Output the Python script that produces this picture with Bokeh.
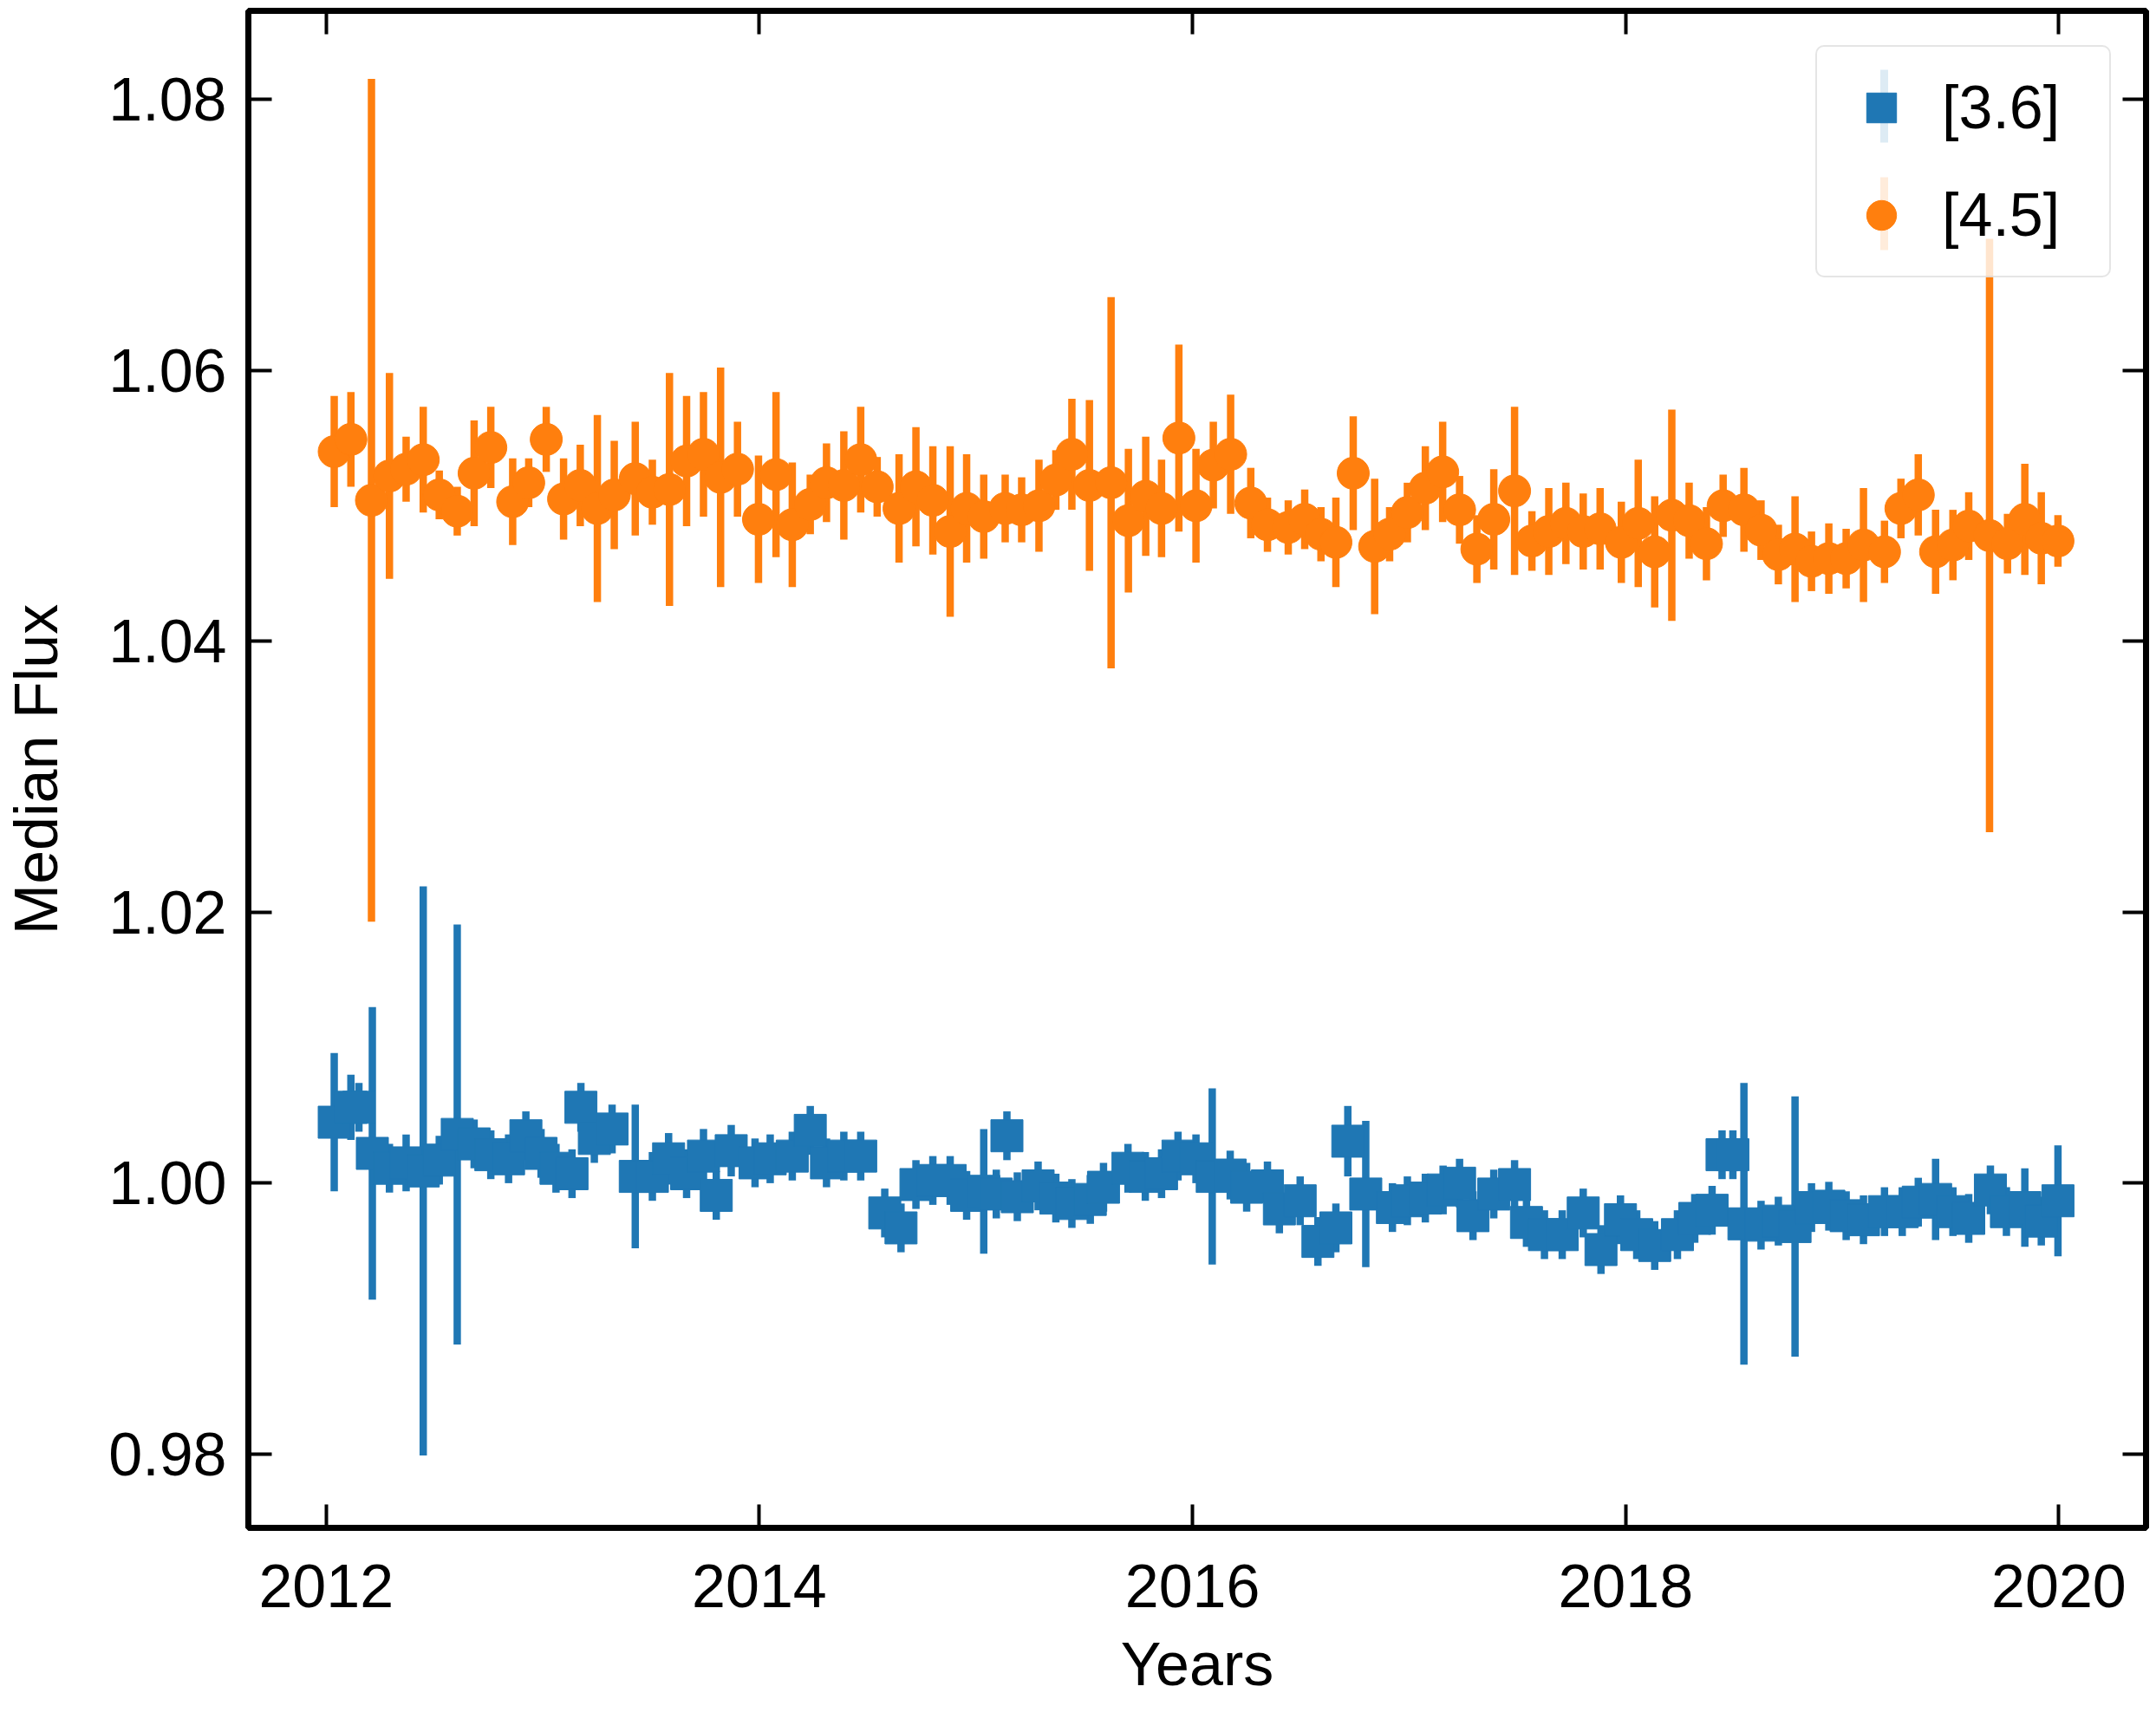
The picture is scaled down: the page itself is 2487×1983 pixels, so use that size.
import subprocess
import glob
import os
from bokeh.plotting import figure
from bokeh.models import (Range1d, LinearAxis, FixedTicker, PrintfTickFormatter,
                          Legend, LegendItem, Arrow, ColumnDataSource)
from bokeh.embed import file_html
from bokeh.resources import INLINE

# ---------------- data ----------------
x_ticks = [2012, 2014, 2016, 2018, 2020]
y_ticks = [0.98, 1.00, 1.02, 1.04, 1.06, 1.08]
labels = ["[3.6]", "[4.5]"]

t36 = [2012.037, 2012.114, 2012.151, 2012.213, 2012.292, 2012.369, 2012.448, 2012.522,
       2012.605, 2012.683, 2012.760, 2012.842, 2012.922, 2012.992, 2013.061, 2013.135,
       2013.176, 2013.238, 2013.320, 2013.427, 2013.506, 2013.581, 2013.664, 2013.742,
       2013.801, 2013.870, 2013.980, 2014.050, 2014.152, 2014.235, 2014.310, 2014.390,
       2014.468, 2014.579, 2014.654, 2014.723, 2014.801, 2014.881, 2014.957, 2015.036,
       2015.094, 2015.143, 2015.191, 2015.287, 2015.369, 2015.443, 2015.528, 2015.589,
       2015.702, 2015.782, 2015.857, 2015.933, 2016.016, 2016.091, 2016.174, 2016.250,
       2016.346, 2016.401, 2016.497, 2016.579, 2016.662, 2016.717, 2016.800, 2016.923,
       2016.992, 2017.075, 2017.157, 2017.233, 2017.295, 2017.391, 2017.487, 2017.542,
       2017.625, 2017.707, 2017.804, 2017.886, 2017.976, 2018.051, 2018.134, 2018.239,
       2018.319, 2018.399, 2018.445, 2018.495, 2018.546, 2018.625, 2018.705, 2018.782,
       2018.858, 2018.938, 2019.018, 2019.098, 2019.195, 2019.277, 2019.351, 2019.431,
       2019.511, 2019.584, 2019.684, 2019.758, 2019.843, 2019.919, 2019.996]
f36 = [1.0045, 1.0056, 1.0056, 1.0022, 1.0011, 1.0015, 1.0009, 1.0017,
       1.0036, 1.0029, 1.0021, 1.0018, 1.0035, 1.0022, 1.0011, 1.0007,
       1.0056, 1.0033, 1.0040, 1.0005, 1.0005, 1.0018, 1.0007, 1.0020,
       0.9991, 1.0024, 1.0015, 1.0018, 1.0020, 1.0039, 1.0015, 1.0020,
       1.0020, 0.9978, 0.9967, 0.9999, 1.0002, 1.0002, 0.9991, 0.9994,
       0.9992, 1.0035, 0.9990, 0.9998, 0.9989, 0.9985, 0.9988, 0.9997,
       1.0011, 1.0005, 1.0007, 1.0020, 1.0018, 1.0005, 1.0006, 0.9997,
       0.9998, 0.9981, 0.9987, 0.9957, 0.9967, 1.0031, 0.9992, 0.9982,
       0.9987, 0.9989, 0.9995, 1.0000, 0.9976, 0.9992, 0.9999, 0.9971,
       0.9962, 0.9962, 0.9978, 0.9951, 0.9973, 0.9962, 0.9954, 0.9962,
       0.9974, 0.9980, 1.0021, 1.0021, 0.9970, 0.9969, 0.9972, 0.9968,
       0.9982, 0.9983, 0.9976, 0.9973, 0.9979, 0.9979, 0.9986, 0.9988,
       0.9979, 0.9974, 0.9995, 0.9979, 0.9982, 0.9972, 0.9987]
e36 = [0.0051, 0.0024, 0.0018, 0.0108, 0.0018, 0.0021, 0.0210, 0.0018,
       0.0155, 0.0018, 0.0018, 0.0018, 0.0018, 0.0018, 0.0018, 0.0018,
       0.0018, 0.0018, 0.0018, 0.0053, 0.0018, 0.0019, 0.0018, 0.0020,
       0.0018, 0.0019, 0.0018, 0.0018, 0.0018, 0.0018, 0.0018, 0.0018,
       0.0018, 0.0018, 0.0018, 0.0018, 0.0018, 0.0018, 0.0018, 0.0046,
       0.0018, 0.0018, 0.0018, 0.0018, 0.0018, 0.0018, 0.0018, 0.0018,
       0.0018, 0.0018, 0.0018, 0.0018, 0.0018, 0.0065, 0.0018, 0.0018,
       0.0018, 0.0018, 0.0018, 0.0018, 0.0018, 0.0026, 0.0054, 0.0018,
       0.0018, 0.0018, 0.0018, 0.0018, 0.0018, 0.0018, 0.0018, 0.0018,
       0.0018, 0.0018, 0.0018, 0.0018, 0.0018, 0.0018, 0.0018, 0.0018,
       0.0018, 0.0018, 0.0018, 0.0018, 0.0104, 0.0018, 0.0018, 0.0096,
       0.0018, 0.0018, 0.0018, 0.0018, 0.0018, 0.0018, 0.0018, 0.0030,
       0.0018, 0.0018, 0.0018, 0.0018, 0.0029, 0.0018, 0.0041]

t45 = [2012.037, 2012.114, 2012.209, 2012.292, 2012.369, 2012.448, 2012.522, 2012.605,
       2012.683, 2012.760, 2012.861, 2012.935, 2013.016, 2013.096, 2013.173, 2013.252,
       2013.330, 2013.427, 2013.506, 2013.585, 2013.664, 2013.742, 2013.821, 2013.899,
       2013.996, 2014.077, 2014.152, 2014.235, 2014.310, 2014.390, 2014.468, 2014.544,
       2014.645, 2014.723, 2014.801, 2014.881, 2014.957, 2015.036, 2015.135, 2015.211,
       2015.291, 2015.369, 2015.443, 2015.524, 2015.624, 2015.704, 2015.784, 2015.857,
       2015.937, 2016.016, 2016.096, 2016.176, 2016.269, 2016.346, 2016.442, 2016.518,
       2016.593, 2016.662, 2016.742, 2016.841, 2016.910, 2016.992, 2017.075, 2017.155,
       2017.233, 2017.313, 2017.391, 2017.487, 2017.567, 2017.645, 2017.724, 2017.804,
       2017.882, 2017.980, 2018.058, 2018.134, 2018.213, 2018.293, 2018.373, 2018.450,
       2018.546, 2018.625, 2018.705, 2018.782, 2018.858, 2018.938, 2019.018, 2019.098,
       2019.195, 2019.271, 2019.351, 2019.431, 2019.511, 2019.584, 2019.680, 2019.763,
       2019.843, 2019.919, 2019.996]
f45 = [1.0540, 1.0549, 1.0504, 1.0522, 1.0527, 1.0534, 1.0508, 1.0496,
       1.0524, 1.0543, 1.0503, 1.0517, 1.0549, 1.0505, 1.0515, 1.0498,
       1.0508, 1.0520, 1.0510, 1.0512, 1.0533, 1.0538, 1.0521, 1.0527,
       1.0490, 1.0523, 1.0486, 1.0501, 1.0517, 1.0515, 1.0534, 1.0514,
       1.0498, 1.0514, 1.0504, 1.0481, 1.0498, 1.0492, 1.0498, 1.0497,
       1.0500, 1.0519, 1.0538, 1.0515, 1.0517, 1.0489, 1.0507, 1.0498,
       1.0550, 1.0500, 1.0530, 1.0538, 1.0502, 1.0486, 1.0484, 1.0490,
       1.0479, 1.0473, 1.0524, 1.0470, 1.0479, 1.0495, 1.0513, 1.0525,
       1.0497, 1.0468, 1.0490, 1.0511, 1.0474, 1.0481, 1.0487, 1.0481,
       1.0483, 1.0473, 1.0487, 1.0466, 1.0493, 1.0489, 1.0472, 1.0500,
       1.0497, 1.0482, 1.0464, 1.0468, 1.0459, 1.0461, 1.0461, 1.0471,
       1.0466, 1.0498, 1.0508, 1.0466, 1.0471, 1.0485, 1.0478, 1.0472,
       1.0490, 1.0476, 1.0474]
e45 = [0.0041, 0.0035, 0.0311, 0.0076, 0.0024, 0.0039, 0.0018, 0.0018,
       0.0039, 0.0030, 0.0032, 0.0018, 0.0024, 0.0030, 0.0030, 0.0069,
       0.0040, 0.0042, 0.0024, 0.0086, 0.0048, 0.0046, 0.0081, 0.0035,
       0.0047, 0.0061, 0.0046, 0.0022, 0.0029, 0.0040, 0.0039, 0.0022,
       0.0040, 0.0044, 0.0040, 0.0063, 0.0040, 0.0031, 0.0025, 0.0024,
       0.0034, 0.0022, 0.0041, 0.0063, 0.0137, 0.0053, 0.0044, 0.0036,
       0.0069, 0.0042, 0.0032, 0.0044, 0.0026, 0.0020, 0.0020, 0.0022,
       0.0020, 0.0033, 0.0042, 0.0050, 0.0020, 0.0022, 0.0031, 0.0037,
       0.0025, 0.0025, 0.0037, 0.0062, 0.0022, 0.0032, 0.0030, 0.0028,
       0.0030, 0.0030, 0.0047, 0.0041, 0.0078, 0.0028, 0.0027, 0.0023,
       0.0031, 0.0022, 0.0022, 0.0039, 0.0022, 0.0026, 0.0022, 0.0042,
       0.0023, 0.0022, 0.0030, 0.0031, 0.0026, 0.0025, 0.0219, 0.0022,
       0.0041, 0.0034, 0.0019]

# ---------------- style ----------------
BLUE = "#1f77b4"
ORANGE = "#ff7f0e"


def narrow_available():
    try:
        out = subprocess.run(["fc-list", ":", "family"], capture_output=True, text=True).stdout
        if "Liberation Sans Narrow" in out:
            return True
    except Exception:
        pass
    for d in ["/usr/share/fonts", "/usr/local/share/fonts", os.path.expanduser("~/.fonts"),
              os.path.expanduser("~/.local/share/fonts")]:
        try:
            if glob.glob(os.path.join(d, "**", "*LiberationSansNarrow*"), recursive=True):
                return True
        except Exception:
            pass
    return False


if narrow_available():
    FONT = "Liberation Sans Narrow"
    FS = "78px"
else:
    FONT = "Liberation Sans"
    FS = "70px"

W, H = 2483, 1978
BL, BR, BT, BB = 281, 8, 12, 216
FRAME_W = W - BL - BR
FRAME_H = H - BT - BB

p = figure(width=W, height=H, output_backend="svg", toolbar_location=None,
           x_range=Range1d(2011.6406, 2020.4026), y_range=Range1d(0.97456, 1.08653),
           min_border_left=BL, min_border_right=BR, min_border_top=BT, min_border_bottom=BB)
p.background_fill_color = "white"
p.border_fill_color = "white"
p.outline_line_color = "black"
p.outline_line_width = 7
p.xgrid.visible = False
p.ygrid.visible = False


def style_axis(ax, ticks, fmt, show_labels):
    ax.ticker = FixedTicker(ticks=ticks)
    ax.formatter = PrintfTickFormatter(format=fmt)
    ax.axis_line_color = None
    ax.major_tick_in = 27
    ax.major_tick_out = 0
    ax.major_tick_line_width = 4
    ax.major_tick_line_color = "black"
    ax.minor_tick_line_color = None
    ax.major_label_text_font = FONT
    ax.axis_label_text_font = FONT
    ax.axis_label_text_font_size = FS
    ax.axis_label_text_font_style = "normal"
    ax.axis_label_text_color = "black"
    if show_labels:
        ax.major_label_text_font_size = FS
        ax.major_label_text_color = "black"
    else:
        ax.major_label_text_font_size = "1px"
        ax.major_label_text_color = None
        ax.major_label_standoff = 0


style_axis(p.xaxis[0], x_ticks, "%d", True)
style_axis(p.yaxis[0], y_ticks, "%.2f", True)
p.xaxis[0].axis_label = "Years"
p.yaxis[0].axis_label = "Median Flux"
p.xaxis[0].major_label_standoff = 42
p.xaxis[0].axis_label_standoff = 24
p.yaxis[0].major_label_standoff = 25
p.yaxis[0].axis_label_standoff = 41

top_ax = LinearAxis()
style_axis(top_ax, x_ticks, "%d", False)
p.add_layout(top_ax, "above")
right_ax = LinearAxis()
style_axis(right_ax, y_ticks, "%.2f", False)
p.add_layout(right_ax, "right")

# ---------------- series ----------------
renderers = []
for t, f, e, col, mk in [(t36, f36, e36, BLUE, "square"), (t45, f45, e45, ORANGE, "circle")]:
    src = ColumnDataSource(dict(t=t, f=f,
                                lo=[a - b for a, b in zip(f, e)],
                                hi=[a + b for a, b in zip(f, e)]))
    p.segment(x0="t", y0="lo", x1="t", y1="hi", source=src, line_color=col,
              line_width=8.5, line_cap="butt")
    r = p.scatter(x="t", y="f", source=src, marker=mk, size=37,
                  fill_color=col, line_color=col, line_width=1)
    renderers.append(r)

# ---------------- legend ----------------
PAD, GW, GH, SP, STANDOFF, LW, MARGIN = 27, 94, 86, 38, 23, 166, 40
legend = Legend(items=[LegendItem(label=labels[0], renderers=[renderers[0]]),
                       LegendItem(label=labels[1], renderers=[renderers[1]])],
                location="top_right", margin=MARGIN, padding=PAD, spacing=SP,
                glyph_width=GW, glyph_height=GH, label_height=GH, label_width=LW,
                label_standoff=STANDOFF, label_text_font=FONT, label_text_font_size=FS,
                label_text_color="black", background_fill_color="white",
                background_fill_alpha=0.8, border_line_color="#cccccc",
                border_line_width=2)
try:
    legend.border_radius = 10
except Exception:
    pass
p.add_layout(legend)

leg_w = 2 * PAD + GW + STANDOFF + LW
gx = FRAME_W - MARGIN - leg_w + PAD + GW / 2.0 - 4
for i, col in enumerate([BLUE, ORANGE]):
    cy_top = MARGIN + PAD + i * (GH + SP) + GH / 2.0
    gy = FRAME_H - cy_top
    p.add_layout(Arrow(end=None, start=None, x_start=gx, y_start=gy - 42, x_end=gx, y_end=gy + 42,
                       start_units="screen", end_units="screen", line_color=col,
                       line_width=9, line_alpha=0.75, line_cap="butt", level="overlay"))

open("out.html", "w").write(file_html(p, INLINE))
